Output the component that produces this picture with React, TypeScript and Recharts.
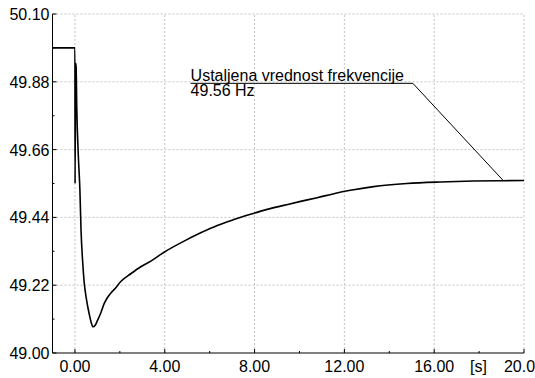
import React from "react";
import { LineChart, Line, XAxis, YAxis, ReferenceLine, Label } from "recharts";

// time [s] and frequency [Hz]
const time = [
	-1, 0, 0.005, 0.03, 0.05, 0.08, 0.15, 0.22, 0.27, 0.34, 0.41, 0.5, 0.64, 0.72, 0.8, 0.9, 1.0,
	1.15, 1.3, 1.45, 1.6, 1.8, 2.04, 2.5, 2.93, 3.38, 3.97, 4.86, 5.6, 6.34, 7.08, 7.82, 8.56, 9.3,
	10.05, 10.79, 11.53, 12.27, 13.3, 14.78, 16.27, 17.73, 19.07, 20,
];
const freq = [
	49.99, 49.99, 49.55, 49.94, 49.93, 49.8, 49.64, 49.53, 49.4, 49.3, 49.23, 49.18, 49.125, 49.1,
	49.085, 49.09, 49.105, 49.13, 49.16, 49.18, 49.195, 49.21, 49.232, 49.258, 49.28, 49.298, 49.327,
	49.363, 49.39, 49.414, 49.433, 49.45, 49.466, 49.479, 49.492, 49.504, 49.517, 49.528, 49.54,
	49.55, 49.555, 49.558, 49.559, 49.56,
];

const xMajor = [0, 4, 8, 12, 16, 20];
const xMinor = [2, 6, 10, 14, 18];
const yMajor = [49.0, 49.22, 49.44, 49.66, 49.88, 50.1];
const yMinor = [49.11, 49.33, 49.55, 49.77, 49.99];

const noteTitle = "Ustaljena vrednost frekvencije";
const noteValue = "49.56 Hz";
const noteLine = [
	{ x: 5.15, y: 49.875 },
	{ x: 15.05, y: 49.875 },
	{ x: 19.07, y: 49.56 },
];
const xUnit = "[s]";

const data = time.map((t, i) => ({ t, f: freq[i] }));
const xTicks = [...xMajor, ...xMinor].sort((a, b) => a - b);
const yTicks = [...yMajor, ...yMinor].sort((a, b) => a - b);

const FONT = "'Liberation Sans', Arial, sans-serif";
const GRID = "#c4c4c4";

const XTick = (props: any) => {
	const { x, y, payload } = props;
	const major = xMajor.includes(payload.value);
	return (
		<g>
			<line x1={x} x2={x} y1={y} y2={y - (major ? 4 : 2)} stroke="#000" />
			{major && (
				<text x={x} y={y + 19} textAnchor="middle" fontSize={16} fontFamily={FONT} fill="#000">
					{payload.value.toFixed(2)}
				</text>
			)}
		</g>
	);
};

const YTick = (props: any) => {
	const { x, y, payload } = props;
	const major = yMajor.includes(payload.value);
	return (
		<g>
			<line x1={x} x2={x + (major ? 4 : 2)} y1={y} y2={y} stroke="#000" />
			{major && (
				<text x={x - 3} y={y + 6} textAnchor="end" fontSize={16} fontFamily={FONT} fill="#000">
					{payload.value.toFixed(2)}
				</text>
			)}
		</g>
	);
};

export default function App() {
	return (
		<div style={{ position: "absolute", left: 0, top: 0, width: 535, height: 378, background: "#fff" }}>
			<LineChart width={535} height={378} data={data} margin={{ top: 14, right: 11, bottom: 0, left: 0 }}>
				<XAxis
					dataKey="t"
					type="number"
					domain={[-1, 20]}
					ticks={xTicks}
					interval={0}
					allowDataOverflow
					height={25}
					tickSize={0}
					tickMargin={0}
					tickLine={false}
					tick={<XTick />}
					axisLine={{ stroke: "#000" }}
				>
					<Label
						content={(p: any) => (
							<text
								x={p.viewBox.x + p.viewBox.width - 54}
								y={p.viewBox.y + 19}
								fontSize={16}
								fontFamily={FONT}
								fill="#000"
							>
								{xUnit}
							</text>
						)}
					/>
				</XAxis>
				<YAxis
					type="number"
					domain={[49.0, 50.1]}
					ticks={yTicks}
					interval={0}
					allowDataOverflow
					width={52.5}
					tickSize={0}
					tickMargin={0}
					tickLine={false}
					tick={<YTick />}
					axisLine={{ stroke: "#000" }}
				/>
				{xMajor.map((v) => (
					<ReferenceLine key={"x" + v} x={v} stroke={GRID} strokeDasharray="2 2" />
				))}
				{yMajor.slice(1).map((v) => (
					<ReferenceLine key={"y" + v} y={v} stroke={GRID} strokeDasharray="2 2" />
				))}
				<Line
					dataKey="f"
					type="monotone"
					stroke="#000"
					strokeWidth={1.6}
					dot={false}
					isAnimationActive={false}
				/>
				<ReferenceLine
					segment={[noteLine[0], noteLine[1]]}
					stroke="#000"
					strokeWidth={1}
					label={(p: any) => (
						<g fontSize={16} fontFamily={FONT} fill="#000">
							<text x={p.viewBox.x} y={p.viewBox.y - 2}>
								{noteTitle}
							</text>
							<text x={p.viewBox.x} y={p.viewBox.y + 13}>
								{noteValue}
							</text>
						</g>
					)}
				/>
				<ReferenceLine segment={[noteLine[1], noteLine[2]]} stroke="#000" strokeWidth={1} />
			</LineChart>
		</div>
	);
}
